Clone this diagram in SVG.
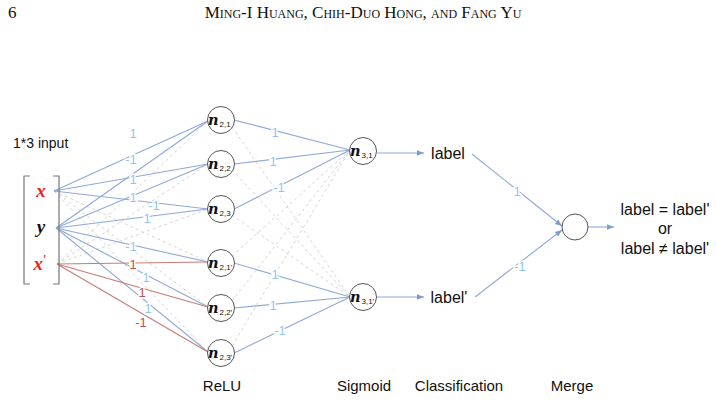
<svg xmlns="http://www.w3.org/2000/svg" width="716" height="402" viewBox="0 0 716 402">
<defs>
<style>
.b{stroke:#8fa9d8;stroke-width:1.1;fill:none}
.r{stroke:#c97b74;stroke-width:1.1;fill:none}
.d{stroke:#cfcfcf;stroke-width:0.9;stroke-dasharray:3 3;fill:none}
.node{fill:#fff;stroke:#555;stroke-width:1}
.wl{font-family:"Liberation Sans",Arial,sans-serif;font-size:13px;text-anchor:middle;paint-order:stroke;stroke:#fff;stroke-width:3}
.wb{fill:#8ec6f2}
.wr{fill:#c0504d}
.t{font-family:"Liberation Sans",Arial,sans-serif;font-size:15px;fill:#111}
.big{font-size:16px}
.n{font-family:"DejaVu Serif","Liberation Serif",serif;font-style:italic;font-weight:bold;font-size:14.5px;fill:#111}
.s{font-family:"Liberation Sans",Arial,sans-serif;font-size:8px;fill:#111}
.v{font-family:"Liberation Serif","Times New Roman",serif;font-style:italic;font-weight:bold;font-size:19px;text-anchor:middle}
</style>
<marker id="ah" viewBox="0 0 10 10" refX="10" refY="5" markerWidth="7" markerHeight="7" orient="auto" markerUnits="userSpaceOnUse">
<path d="M0,1 L10,5 L0,9 z" fill="#7f9ccf"/>
</marker>
</defs>
<rect width="716" height="402" fill="#fff"/>
<text x="8" y="18" font-family="Liberation Serif,serif" font-size="17" fill="#111">6</text>
<text x="363" y="18" font-family="Liberation Serif,serif" font-size="17" font-variant="small-caps" text-anchor="middle" fill="#111">Ming-I Huang, Chih-Duo Hong, and Fang Yu</text>

<g id="connectors">
<line class="d" x1="54" y1="191" x2="208" y2="262"/>
<line class="d" x1="54" y1="191" x2="208" y2="307"/>
<line class="d" x1="54" y1="191" x2="208" y2="352"/>
<line class="d" x1="57" y1="264" x2="208" y2="121"/>
<line class="d" x1="57" y1="264" x2="208" y2="164"/>
<line class="d" x1="57" y1="264" x2="208" y2="209"/>
<line class="b" x1="54" y1="191" x2="208" y2="121"/>
<line class="b" x1="54" y1="191" x2="208" y2="164"/>
<line class="b" x1="54" y1="191" x2="208" y2="209"/>
<line class="b" x1="56" y1="228" x2="208" y2="121"/>
<line class="b" x1="56" y1="228" x2="208" y2="164"/>
<line class="b" x1="56" y1="228" x2="208" y2="209"/>
<line class="b" x1="56" y1="228" x2="208" y2="262"/>
<line class="b" x1="56" y1="228" x2="208" y2="307"/>
<line class="b" x1="56" y1="228" x2="208" y2="352"/>
<line class="r" x1="57" y1="264" x2="208" y2="262"/>
<line class="r" x1="57" y1="264" x2="208" y2="307"/>
<line class="r" x1="57" y1="264" x2="208" y2="352"/>
<line class="d" x1="232" y1="127" x2="350" y2="297"/>
<line class="d" x1="232" y1="170" x2="350" y2="297"/>
<line class="d" x1="232" y1="215" x2="350" y2="297"/>
<line class="d" x1="232" y1="256" x2="350" y2="150"/>
<line class="d" x1="232" y1="301" x2="350" y2="150"/>
<line class="d" x1="232" y1="346" x2="350" y2="150"/>
<line class="b" x1="234" y1="120" x2="350" y2="150"/>
<line class="b" x1="234" y1="164" x2="350" y2="150"/>
<line class="b" x1="234" y1="209" x2="350" y2="150"/>
<line class="b" x1="234" y1="263" x2="350" y2="297"/>
<line class="b" x1="234" y1="308" x2="350" y2="297"/>
<line class="b" x1="234" y1="353" x2="350" y2="297"/>
<line class="b" x1="377" y1="153" x2="424" y2="153" marker-end="url(#ah)"/>
<line class="b" x1="377" y1="297" x2="424" y2="297" marker-end="url(#ah)"/>
<line class="b" x1="472" y1="154" x2="562" y2="226" marker-end="url(#ah)"/>
<line class="b" x1="475" y1="297" x2="562" y2="230" marker-end="url(#ah)"/>
<line class="b" x1="588" y1="227" x2="614" y2="227" marker-end="url(#ah)"/>
<text class="wl wb" x="133" y="138">1</text>
<text class="wl wb" x="131" y="164">-1</text>
<text class="wl wb" x="133" y="184">1</text>
<text class="wl wb" x="133" y="202">1</text>
<text class="wl wb" x="154" y="210">-1</text>
<text class="wl wb" x="147" y="223">1</text>
<text class="wl wb" x="131" y="251">-1</text>
<text class="wl wr" x="133" y="269">1</text>
<text class="wl wb" x="146" y="282">1</text>
<text class="wl wr" x="142" y="297">1</text>
<text class="wl wb" x="148" y="313">1</text>
<text class="wl wr" x="141" y="327">-1</text>
<text class="wl wb" x="275" y="137">1</text>
<text class="wl wb" x="273" y="166">1</text>
<text class="wl wb" x="279" y="192">-1</text>
<text class="wl wb" x="275" y="279">1</text>
<text class="wl wb" x="273" y="310">1</text>
<text class="wl wb" x="280" y="335">-1</text>
<text class="wl wb" x="517" y="196">1</text>
<text class="wl wb" x="520" y="271">-1</text>
</g>

<g id="input">
<text class="t" x="13" y="148" style="font-size:14px">1*3 input</text>
<path d="M30,176 H24 V284 H30" fill="none" stroke="#777" stroke-width="1.2"/>
<path d="M53,176 H59 V284 H53" fill="none" stroke="#777" stroke-width="1.2"/>
<text class="v" x="41" y="197" fill="#e8231d">x</text>
<text class="v" x="41" y="233" fill="#111">y</text>
<text class="v" x="40" y="270" fill="#e8231d">x<tspan font-size="12" dy="-7" font-style="normal">'</tspan></text>
</g>

<g id="n21"><circle class="node" cx="221" cy="120" r="13.5"/><text class="n" x="208" y="125">n</text><text class="s" x="219.5" y="127">2,1</text></g>
<g id="n22"><circle class="node" cx="221" cy="164" r="13.5"/><text class="n" x="208" y="169">n</text><text class="s" x="219.5" y="171">2,2</text></g>
<g id="n23"><circle class="node" cx="221" cy="209" r="13.5"/><text class="n" x="208" y="214">n</text><text class="s" x="219.5" y="216">2,3</text></g>
<g id="n21p"><circle class="node" cx="221" cy="263" r="13.5"/><text class="n" x="208" y="268">n</text><text class="s" x="219.5" y="270">2,1'</text></g>
<g id="n22p"><circle class="node" cx="221" cy="308" r="13.5"/><text class="n" x="208" y="313">n</text><text class="s" x="219.5" y="315">2,2'</text></g>
<g id="n23p"><circle class="node" cx="221" cy="353" r="13.5"/><text class="n" x="208" y="358">n</text><text class="s" x="219.5" y="360">2,3'</text></g>
<g id="n31"><circle class="node" cx="363" cy="151" r="13.5"/><text class="n" x="350" y="156">n</text><text class="s" x="361.5" y="158">3,1</text></g>
<g id="n31p"><circle class="node" cx="363" cy="297" r="13.5"/><text class="n" x="350" y="302">n</text><text class="s" x="361.5" y="304">3,1'</text></g>

<g id="label"><text class="t big" x="448" y="159" text-anchor="middle">label</text></g>
<g id="labelp"><text class="t big" x="449" y="303" text-anchor="middle">label'</text></g>
<g id="merge"><circle class="node" cx="575" cy="227" r="13"/></g>
<g id="result">
<text class="t big" x="665" y="215" text-anchor="middle">label = label'</text>
<text class="t big" x="665" y="234" text-anchor="middle">or</text>
<text class="t big" x="665" y="254" text-anchor="middle">label ≠ label'</text>
</g>
<g id="captions">
<text class="t" x="222" y="391" text-anchor="middle">ReLU</text>
<text class="t" x="364" y="391" text-anchor="middle">Sigmoid</text>
<text class="t" x="459" y="391" text-anchor="middle">Classification</text>
<text class="t" x="572" y="391" text-anchor="middle">Merge</text>
</g>
</svg>
